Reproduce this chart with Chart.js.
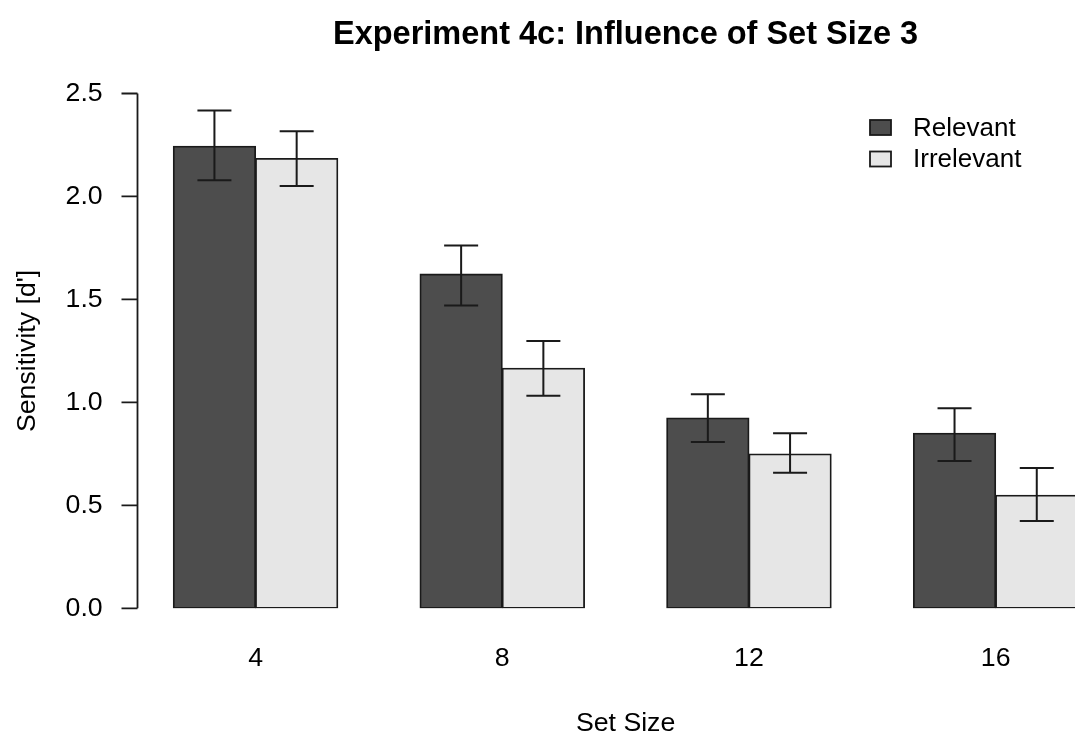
<!DOCTYPE html>
<html>
<head>
<meta charset="utf-8">
<script src="https://cdn.jsdelivr.net/npm/chart.js@4.4.1/dist/chart.umd.min.js"></script>
<style>
  html, body { margin: 0; padding: 0; background: #fff; overflow: hidden; }
  #wrap { width: 1075px; height: 736px; overflow: hidden; }
  canvas { display: block; }
</style>
</head>
<body>
<div id="wrap"><canvas id="chart" width="1119" height="736"></canvas></div>
<script>
// Set sizes on the x axis
const setSizes = ['4', '8', '12', '16'];

// Mean sensitivity (d') with lower / upper error-bar ends
const relevantMean = [2.244, 1.623, 0.924, 0.850];
const relevantLow  = [2.079, 1.471, 0.807, 0.715];
const relevantHigh = [2.417, 1.762, 1.039, 0.972];

const irrelevantMean = [2.184, 1.166, 0.749, 0.549];
const irrelevantLow  = [2.051, 1.032, 0.658, 0.424];
const irrelevantHigh = [2.317, 1.298, 0.850, 0.681];

// y axis tick values
const yTicks = [0, 0.5, 1.0, 1.5, 2.0, 2.5];

const FONT = '"Liberation Sans", Arial, Helvetica, sans-serif';
const INK = '#1a1a1a';

const errorRanges = [
  { low: relevantLow, high: relevantHigh },
  { low: irrelevantLow, high: irrelevantHigh }
];

// Error bars with flat caps, drawn over each bar
const errorBars = {
  id: 'errorBars',
  afterDatasetsDraw(chart) {
    const { ctx, scales: { y } } = chart;
    ctx.save();
    ctx.strokeStyle = INK;
    ctx.lineWidth = 2;
    const cap = 17;
    chart.data.datasets.forEach((ds, di) => {
      const meta = chart.getDatasetMeta(di);
      meta.data.forEach((bar, i) => {
        const x = bar.x;
        const yl = y.getPixelForValue(errorRanges[di].low[i]);
        const yh = y.getPixelForValue(errorRanges[di].high[i]);
        ctx.beginPath();
        ctx.moveTo(x, yl); ctx.lineTo(x, yh);
        ctx.moveTo(x - cap, yh); ctx.lineTo(x + cap, yh);
        ctx.moveTo(x - cap, yl); ctx.lineTo(x + cap, yl);
        ctx.stroke();
      });
    });
    ctx.restore();
  }
};

// Y axis line spanning only the tick range, with outward tick marks
const yAxisLine = {
  id: 'yAxisLine',
  afterDraw(chart) {
    const { ctx, scales: { x, y } } = chart;
    const ax = Math.round(x.getPixelForValue(-0.48)) + 0.5;
    const tickLen = 16;
    ctx.save();
    ctx.strokeStyle = INK;
    ctx.lineWidth = 1.8;
    ctx.beginPath();
    ctx.moveTo(ax, y.getPixelForValue(yTicks[0]));
    ctx.lineTo(ax, y.getPixelForValue(yTicks[yTicks.length - 1]));
    yTicks.forEach(v => {
      const py = y.getPixelForValue(v);
      ctx.moveTo(ax - tickLen, py);
      ctx.lineTo(ax, py);
    });
    ctx.stroke();
    ctx.restore();
  }
};

// Legend in the top-right corner of the plot
const boxLegend = {
  id: 'boxLegend',
  afterDraw(chart) {
    const { ctx } = chart;
    ctx.save();
    ctx.font = '26px ' + FONT;
    ctx.textBaseline = 'middle';
    ctx.textAlign = 'left';
    const bx = 870, bw = 21, bh = 15, tx = 913;
    const rows = [127.5, 159];
    chart.data.datasets.forEach((ds, i) => {
      const cy = rows[i];
      ctx.fillStyle = ds.backgroundColor;
      ctx.fillRect(bx, cy - bh / 2, bw, bh);
      ctx.strokeStyle = INK;
      ctx.lineWidth = 1.8;
      ctx.strokeRect(bx, cy - bh / 2, bw, bh);
      ctx.fillStyle = '#000';
      ctx.fillText(ds.label, tx, cy + 1);
    });
    ctx.restore();
  }
};

new Chart(document.getElementById('chart'), {
  type: 'bar',
  data: {
    labels: setSizes,
    datasets: [
      {
        label: 'Relevant',
        data: relevantMean,
        backgroundColor: '#4d4d4d',
        borderColor: INK,
        borderWidth: 1.8,
        borderSkipped: false,
        inflateAmount: 0.5
      },
      {
        label: 'Irrelevant',
        data: irrelevantMean,
        backgroundColor: '#e6e6e6',
        borderColor: INK,
        borderWidth: 1.8,
        borderSkipped: false,
        inflateAmount: 0.5
      }
    ]
  },
  options: {
    responsive: false,
    devicePixelRatio: 1,
    animation: false,
    layout: { padding: 0 },
    datasets: {
      bar: { barPercentage: 1.0, categoryPercentage: 2 / 3 }
    },
    plugins: {
      legend: { display: false },
      tooltip: { enabled: false },
      title: {
        display: true,
        text: 'Experiment 4c: Influence of Set Size 3',
        color: '#000',
        fullSize: false,
        font: { family: FONT, size: 32.5, weight: 'bold', lineHeight: 1.2 },
        padding: { top: 15.5, bottom: 39 }
      }
    },
    scales: {
      x: {
        offset: true,
        grid: { display: false, drawTicks: false },
        border: { display: false },
        ticks: {
          color: '#000',
          padding: 34,
          font: { family: FONT, size: 26.7, lineHeight: 1.2 }
        },
        title: {
          display: true,
          text: 'Set Size',
          color: '#000',
          font: { family: FONT, size: 26.7, lineHeight: 0.95 },
          padding: { top: 0, bottom: 0 }
        },
        afterFit(scale) { scale.height = 127.7; }
      },
      y: {
        min: 0,
        max: 2.5,
        afterBuildTicks(scale) { scale.ticks = yTicks.map(v => ({ value: v })); },
        grid: { display: false, drawTicks: false },
        border: { display: false },
        ticks: {
          color: '#000',
          padding: 29.5,
          font: { family: FONT, size: 26.7, lineHeight: 1.2 },
          callback: v => Number(v).toFixed(1)
        },
        title: {
          display: true,
          text: "Sensitivity [d']",
          color: '#000',
          font: { family: FONT, size: 26.7, lineHeight: 1.2 },
          padding: { top: 11.5, bottom: 0 }
        },
        afterFit(scale) { scale.width = 132.2; }
      }
    }
  },
  plugins: [errorBars, yAxisLine, boxLegend]
});
</script>
</body>
</html>
